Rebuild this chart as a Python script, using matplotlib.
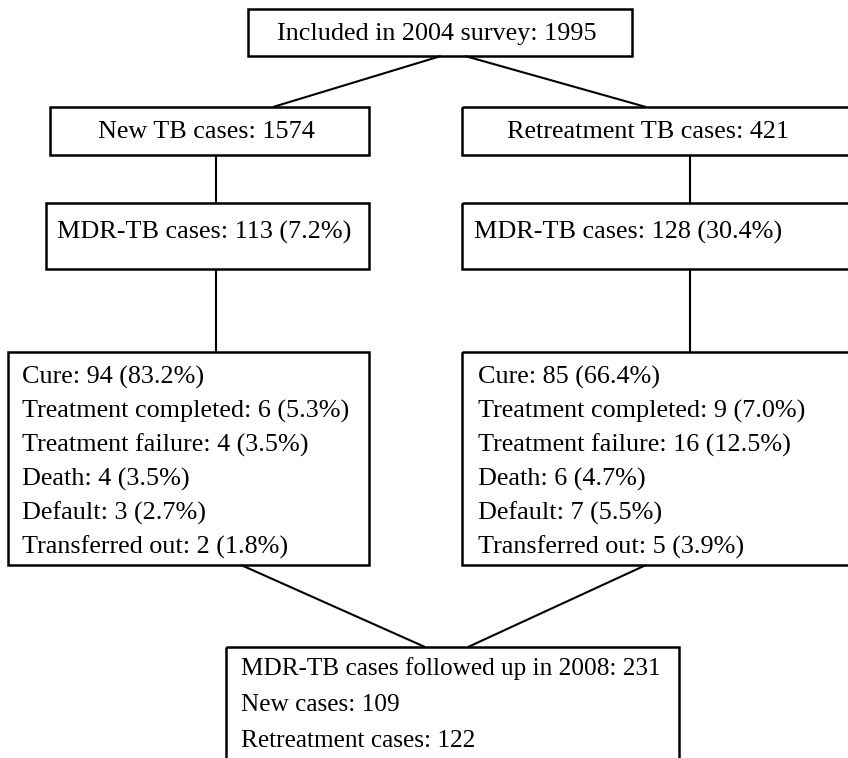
import matplotlib
matplotlib.use("Agg")
import matplotlib.pyplot as plt
from matplotlib.patches import Rectangle

plt.rcParams['font.family'] = ['Liberation Serif', 'DejaVu Serif']

# ---- data ----
total_label = "Included in 2004 survey"
total_n = 1995
group_labels = ["New TB cases", "Retreatment TB cases"]
group_n = [1574, 421]
mdr_n = [113, 128]
mdr_pct = [7.2, 30.4]
outcome_names = ["Cure", "Treatment completed", "Treatment failure",
                 "Death", "Default", "Transferred out"]
outcome_new = [94, 6, 4, 4, 3, 2]
outcome_new_pct = [83.2, 5.3, 3.5, 3.5, 2.7, 1.8]
outcome_ret = [85, 9, 16, 6, 7, 5]
outcome_ret_pct = [66.4, 7.0, 12.5, 4.7, 5.5, 3.9]
followup_year = 2008
followup_total = 231
followup_new = 109
followup_ret = 122

W, H = 848, 758
fig = plt.figure(figsize=(W / 100, H / 100), dpi=100)
ax = fig.add_axes([0, 0, 1, 1])
ax.set_xlim(0, W)
ax.set_ylim(H, 0)
ax.axis('off')

FS = 18.8
BLW = 1.8
LLW = 1.5


def box(x0, y0, x1, y1):
    ax.add_patch(Rectangle((x0, y0), x1 - x0, y1 - y0, fill=False,
                           edgecolor='black', lw=BLW, clip_on=False))


def line(x0, y0, x1, y1):
    ax.plot([x0, x1], [y0, y1], color='black', lw=LLW, solid_capstyle='butt')


def txt(x, y, s, ha, fs=FS):
    ax.text(x, y, s, ha=ha, va='baseline', fontsize=fs)


# top box
box(248, 9, 632, 56)
txt(437, 40, f"{total_label}: {total_n}", 'center')
line(441, 56, 273, 107)
line(465, 56, 646, 107)

# group boxes
gx = [(50, 369), (462, 852)]
gtx = [206, 648]
vx = [216, 690]
for i in range(2):
    box(gx[i][0], 107, gx[i][1], 155)
    txt(gtx[i], 138, f"{group_labels[i]}: {group_n[i]}", 'center')
    line(vx[i], 155, vx[i], 203)

# MDR boxes
mx = [(46, 369), (462, 852)]
mtx = [204, 628]
for i in range(2):
    box(mx[i][0], 203, mx[i][1], 269)
    txt(mtx[i], 239, f"MDR-TB cases: {mdr_n[i]} ({mdr_pct[i]:.1f}%)", 'center')
    line(vx[i], 269, vx[i], 352)

# outcome boxes
ox = [(8, 369), (462, 852)]
txs = [22, 478]
data = [(outcome_new, outcome_new_pct), (outcome_ret, outcome_ret_pct)]
for i in range(2):
    box(ox[i][0], 352, ox[i][1], 565)
    vals, pcts = data[i]
    for k, name in enumerate(outcome_names):
        txt(txs[i], 384 + k * 34, f"{name}: {vals[k]} ({pcts[k]:.1f}%)", 'left')

line(241, 565, 425, 647)
line(646, 565, 468, 647)

# bottom box
box(226, 647, 679, 780)
blines = [f"MDR-TB cases followed up in {followup_year}: {followup_total}",
          f"New cases: {followup_new}",
          f"Retreatment cases: {followup_ret}"]
for k, t in enumerate(blines):
    txt(241, 675 + k * 36, t, 'left', fs=18.2)

fig.savefig("out.png", dpi=100)
